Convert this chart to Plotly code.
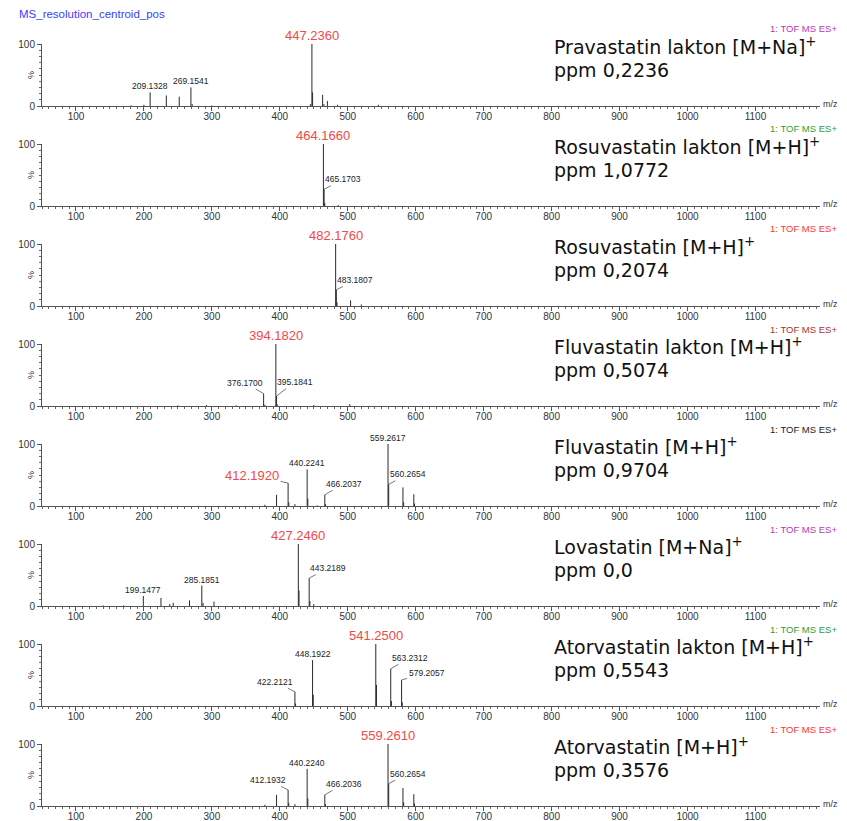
import plotly.graph_objects as go

# ---------------- data ----------------
title_text = "MS_resolution_centroid_pos"
instrument = "1: TOF MS ES+"

compounds = ["Pravastatin lakton [M+Na]<sup>+</sup>",
             "Rosuvastatin lakton [M+H]<sup>+</sup>",
             "Rosuvastatin [M+H]<sup>+</sup>",
             "Fluvastatin lakton [M+H]<sup>+</sup>",
             "Fluvastatin [M+H]<sup>+</sup>",
             "Lovastatin [M+Na]<sup>+</sup>",
             "Atorvastatin lakton [M+H]<sup>+</sup>",
             "Atorvastatin [M+H]<sup>+</sup>"]
ppm_text = ["ppm 0,2236", "ppm 1,0772", "ppm 0,2074", "ppm 0,5074",
            "ppm 0,9704", "ppm 0,0", "ppm 0,5543", "ppm 0,3576"]

p1_mz = [181, 200, 209.1328, 233, 252, 269.1541, 271, 300, 445, 447.2360, 448.24, 463, 465, 470, 485, 545]
p1_int = [1, 2, 22, 17, 15, 30, 3, 1, 3, 100, 22, 18, 3, 8, 2, 2]
p2_mz = [464.1660, 465.1703, 466.17, 486, 545]
p2_int = [100, 27, 5, 1.5, 0.8]
p3_mz = [482.1760, 483.1807, 484.18, 504.16, 520]
p3_int = [100, 26, 6, 9, 2.5]
p4_mz = [250, 292, 336, 376.1700, 378, 394.1820, 395.1841, 396, 450, 503]
p4_int = [1, 1.5, 1, 20, 2, 100, 16, 3, 1.5, 3]
p5_mz = [378, 395.18, 412.1920, 413.2, 422.2, 440.2241, 441.23, 455, 466.2037, 467.2,
         559.2617, 560.2654, 581.24, 582.25, 597.22, 598.2]
p5_int = [2, 18, 37, 6, 3, 59, 12, 1, 18, 3, 100, 35, 30, 6, 19, 4]
p6_mz = [140, 170, 199.1477, 225.1, 238, 243.1, 267.1, 285.1851, 287, 303.1,
         427.2460, 428.25, 443.2189, 444.22, 450]
p6_int = [1, 1, 16, 13, 3, 5, 9, 33, 5, 7, 100, 25, 45, 8, 3]
p7_mz = [422.2121, 423.2, 448.1922, 449.2, 541.2500, 542.25, 563.2312, 564.23, 579.2057, 580.2]
p7_int = [23, 4, 74, 18, 100, 34, 60, 8, 42, 6]
p8_mz = [378, 395.18, 412.1932, 413.2, 422.2, 440.2240, 441.23, 466.2036, 467.2,
         559.2610, 560.2654, 581.24, 582.25, 597.22, 598.2]
p8_int = [2, 18, 26, 5, 3, 60, 12, 18, 3, 100, 36, 29, 6, 19, 4]

panels_mz = [p1_mz, p2_mz, p3_mz, p4_mz, p5_mz, p6_mz, p7_mz, p8_mz]
panels_int = [p1_int, p2_int, p3_int, p4_int, p5_int, p6_int, p7_int, p8_int]

# labelled peaks: (m/z, text, is_target)
p1_labels = [(447.2360, "447.2360", True), (209.1328, "209.1328", False), (269.1541, "269.1541", False)]
p2_labels = [(464.1660, "464.1660", True), (465.1703, "465.1703", False)]
p3_labels = [(482.1760, "482.1760", True), (483.1807, "483.1807", False)]
p4_labels = [(394.1820, "394.1820", True), (376.1700, "376.1700", False), (395.1841, "395.1841", False)]
p5_labels = [(412.1920, "412.1920", True), (440.2241, "440.2241", False), (466.2037, "466.2037", False),
             (559.2617, "559.2617", False), (560.2654, "560.2654", False)]
p6_labels = [(427.2460, "427.2460", True), (199.1477, "199.1477", False), (285.1851, "285.1851", False),
             (443.2189, "443.2189", False)]
p7_labels = [(541.2500, "541.2500", True), (422.2121, "422.2121", False), (448.1922, "448.1922", False),
             (563.2312, "563.2312", False), (579.2057, "579.2057", False)]
p8_labels = [(559.2610, "559.2610", True), (412.1932, "412.1932", False), (440.2240, "440.2240", False),
             (466.2036, "466.2036", False), (560.2654, "560.2654", False)]
panels_labels = [p1_labels, p2_labels, p3_labels, p4_labels, p5_labels, p6_labels, p7_labels, p8_labels]

x_ticks = [100, 200, 300, 400, 500, 600, 700, 800, 900, 1000, 1100]

# ---------------- style / layout (positions in window pixels) ----------------
OFF = 8                      # default page body margin
W, H = 832, 821 - OFF        # figure size so it fits the visible window
tof_colors = ['#b13cb1', '#2f9e2f', '#ff3333', '#a83232', '#1a1a1a', '#b13cb1', '#2f9e2f', '#ff3333']
# leader-line label offsets (pixels) for labels that are not centred above their peak
leader = {
    (1, "465.1703"): (19, -10), (2, "483.1807"): (19, -10),
    (3, "376.1700"): (-19, -11), (3, "395.1841"): (18, -14),
    (4, "412.1920"): (-36, -8), (4, "466.2037"): (19, -11), (4, "560.2654"): (19, -10),
    (5, "443.2189"): (19, -10),
    (6, "422.2121"): (-20, -10), (6, "563.2312"): (19, -11), (6, "579.2057"): (25, -7),
    (7, "412.1932"): (-20, -10), (7, "466.2036"): (19, -11), (7, "560.2654"): (19, -10),
}

def px(x):
    return (x - OFF) / W

def py(y):
    return 1 - (y - OFF) / H

FONT = "Arial, Liberation Sans, sans-serif"
fig = go.Figure()
annotations = []
layout = dict(width=W, height=H, margin=dict(l=0, r=0, t=0, b=0),
              paper_bgcolor='white', plot_bgcolor='white', showlegend=False)

for k in range(8):
    n = k + 1
    xa = 'x' if n == 1 else f'x{n}'
    ya = 'y' if n == 1 else f'y{n}'
    top = 44 + 100 * k
    bot = 106 + 100 * k
    xs, ys = [], []
    for m, v in zip(panels_mz[k], panels_int[k]):
        xs += [m, m, None]
        ys += [0, v, None]
    fig.add_trace(go.Scatter(x=xs, y=ys, mode='lines', xaxis=xa, yaxis=ya,
                             line=dict(color='#2a2a2a', width=1), hoverinfo='skip'))
    layout['xaxis' if n == 1 else f'xaxis{n}'] = dict(
        domain=[px(42), px(820)], anchor=ya, range=[50, 1195],
        tickvals=x_ticks, ticks='outside', ticklen=4, tickwidth=1, tickcolor='#555',
        ticklabelstandoff=-3,
        showline=True, linecolor='#555', linewidth=1, showgrid=False, zeroline=False,
        tickfont=dict(family=FONT, size=10, color='#333'), automargin=False,
        minor=dict(dtick=10, tick0=0, ticks='outside', ticklen=2, tickcolor='#666', showgrid=False))
    layout['yaxis' if n == 1 else f'yaxis{n}'] = dict(
        domain=[py(bot), py(top)], anchor=xa, range=[0, 100],
        tickvals=[0, 100], ticks='outside', ticklen=4,
        tickcolor='#555', showline=True, linecolor='#555', linewidth=1,
        showgrid=False, zeroline=False, automargin=False,
        tickfont=dict(family=FONT, size=10, color='#333'),
        minor=dict(dtick=10, tick0=0, ticks='outside', ticklen=2, tickcolor='#666', showgrid=False))

    # peak labels
    for m, txt, target in panels_labels[k]:
        v = panels_int[k][panels_mz[k].index(m)]
        fnt = dict(family=FONT, size=13 if target else 8.5, color='#f24848' if target else '#222')
        if (k, txt) in leader:
            ax, ay = leader[(k, txt)]
            annotations.append(dict(xref=xa, yref=ya, x=m, y=v, text=txt, showarrow=True,
                                    ax=ax, ay=ay, arrowhead=0, arrowwidth=0.8, arrowcolor='#555',
                                    standoff=0, font=fnt))
        else:
            annotations.append(dict(xref=xa, yref=ya, x=m, y=v, text=txt, showarrow=False,
                                    yanchor='bottom', xanchor='center', yshift=-1, font=fnt))
    # % label
    annotations.append(dict(xref='paper', yref='paper', x=px(31), y=py(75 + 100 * k), text='%',
                            textangle=-90, showarrow=False, xanchor='center', yanchor='middle',
                            font=dict(family=FONT, size=9, color='#333')))
    # m/z label
    annotations.append(dict(xref='paper', yref='paper', x=px(830), y=py(104 + 100 * k), text='m/z',
                            showarrow=False, xanchor='center', yanchor='middle',
                            font=dict(family=FONT, size=9, color='#333')))
    # instrument label
    annotations.append(dict(xref='paper', yref='paper', x=px(839), y=py(29 + 100 * k), text=instrument,
                            xanchor='right', yanchor='middle', showarrow=False,
                            font=dict(family=FONT, size=9.5, color=tof_colors[k])))
    # compound name and ppm
    annotations.append(dict(xref='paper', yref='paper', x=px(552), y=py(46 + 100 * k), text=compounds[k],
                            xanchor='left', yanchor='middle', showarrow=False,
                            font=dict(family='DejaVu Sans', size=19, color='#111')))
    annotations.append(dict(xref='paper', yref='paper', x=px(552), y=py(70 + 100 * k), text=ppm_text[k],
                            xanchor='left', yanchor='middle', showarrow=False,
                            font=dict(family='DejaVu Sans', size=19, color='#111')))

annotations.append(dict(xref='paper', yref='paper', x=px(17), y=py(14), text=title_text,
                        xanchor='left', yanchor='middle', showarrow=False,
                        font=dict(family=FONT, size=11.5, color='#3c3cff')))

layout['annotations'] = annotations
fig.update_layout(**layout)
fig.write_html("out.html")
